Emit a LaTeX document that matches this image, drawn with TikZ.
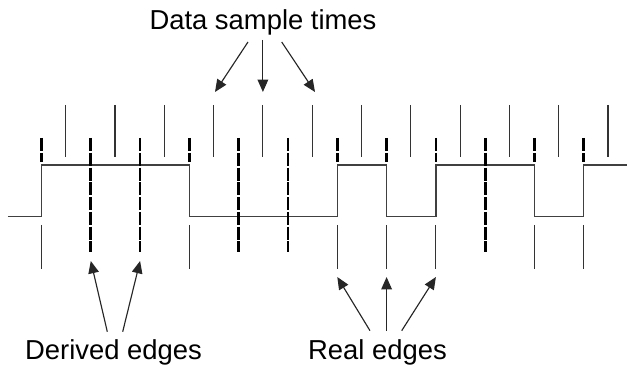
\documentclass[tikz,border=0pt]{standalone}
\usepackage{fontspec}
\setmainfont{Liberation Sans}
\usetikzlibrary{arrows.meta,calc}

\begin{document}
\begin{tikzpicture}[x=0.02cm,y=-0.02cm,
  line cap=butt,
  line join=miter,
  every node/.style={font=\fontsize{15.6}{18}\selectfont},
  sig/.style={black!75,line width=0.75pt},
  tick/.style={black!80,line width=0.65pt},
  edgemark/.style={black,line width=1.5pt,dash pattern=on 7.5pt off 0.9pt},
  pointer/.style={black!85,line width=0.65pt,-{Triangle[length=7pt,width=6pt]}}]

  % 描画範囲
  \useasboundingbox (0,0) rectangle (627,371);

  % 高レベル・低レベル
  \def\yhi{165}
  \def\ylo{216.7}

  % データサンプル時刻（上の実線）
  \foreach \j in {0,...,11}{
    \coordinate (S\j) at ({65.7+49.3*\j},105);
    \draw[tick] (S\j) -- ++(0,52);
  }

  % エッジ位置
  \foreach \k in {0,...,11}{
    \coordinate (E\k) at ({41.5+49.3*\k},138);
  }

  % 信号波形
  \draw[sig] (8,\ylo) -- (E0|-0,\ylo) -- (E0|-0,\yhi) -- (E3|-0,\yhi)
    -- (E3|-0,\ylo) -- (E6|-0,\ylo) -- (E6|-0,\yhi) -- (E7|-0,\yhi)
    -- (E7|-0,\ylo) -- (E8|-0,\ylo) -- (E8|-0,\yhi) -- (E10|-0,\yhi)
    -- (E10|-0,\ylo) -- (E11|-0,\ylo) -- (E11|-0,\yhi) -- (627,\yhi);

  % 実エッジ
  \foreach \k in {0,3,6,7,8,10,11}{
    \draw[edgemark] (E\k) -- ++(0,24);
    \draw[tick] (E\k) ++(0,87) coordinate (R\k) -- ++(0,44);
  }

  % 推定エッジ
  \foreach \k in {1,2,4,5,9}{
    \draw[edgemark] (E\k) -- ++(0,114) coordinate (D\k);
  }

  % ラベル
  \node (samp) at (263,22) {Data sample times};
  \node (deriv) at (113.5,352) {Derived edges};
  \node (real) at (377.5,352) {Real edges};

  % 矢印の先端
  \coordinate (a1) at (215,92);
  \coordinate (a2) at ($(S4)+(0,-13)$);
  \coordinate (a3) at (315,92);
  \coordinate (b1) at ($(D1)+(0,9)$);
  \coordinate (b2) at ($(D2)+(0,9)$);
  \coordinate (c1) at ($(R6)+(0,52)$);
  \coordinate (c2) at ($(R7)+(0,52)$);
  \coordinate (c3) at ($(R8)+(0,52)$);

  \draw[pointer] (248,42) -- (a1);
  \draw[pointer] (samp.south-|a2) ++(0,-1) -- (a2);
  \draw[pointer] (281.7,42) -- (a3);

  \draw[pointer] (107.3,331.7) -- (b1);
  \draw[pointer] (122.7,331.7) -- (b2);

  \draw[pointer] (370,330.7) -- (c1);
  \draw[pointer] (real.north-|c2) ++(0,-2) -- (c2);
  \draw[pointer] (401.7,330.7) -- (c3);

\end{tikzpicture}
\end{document}
